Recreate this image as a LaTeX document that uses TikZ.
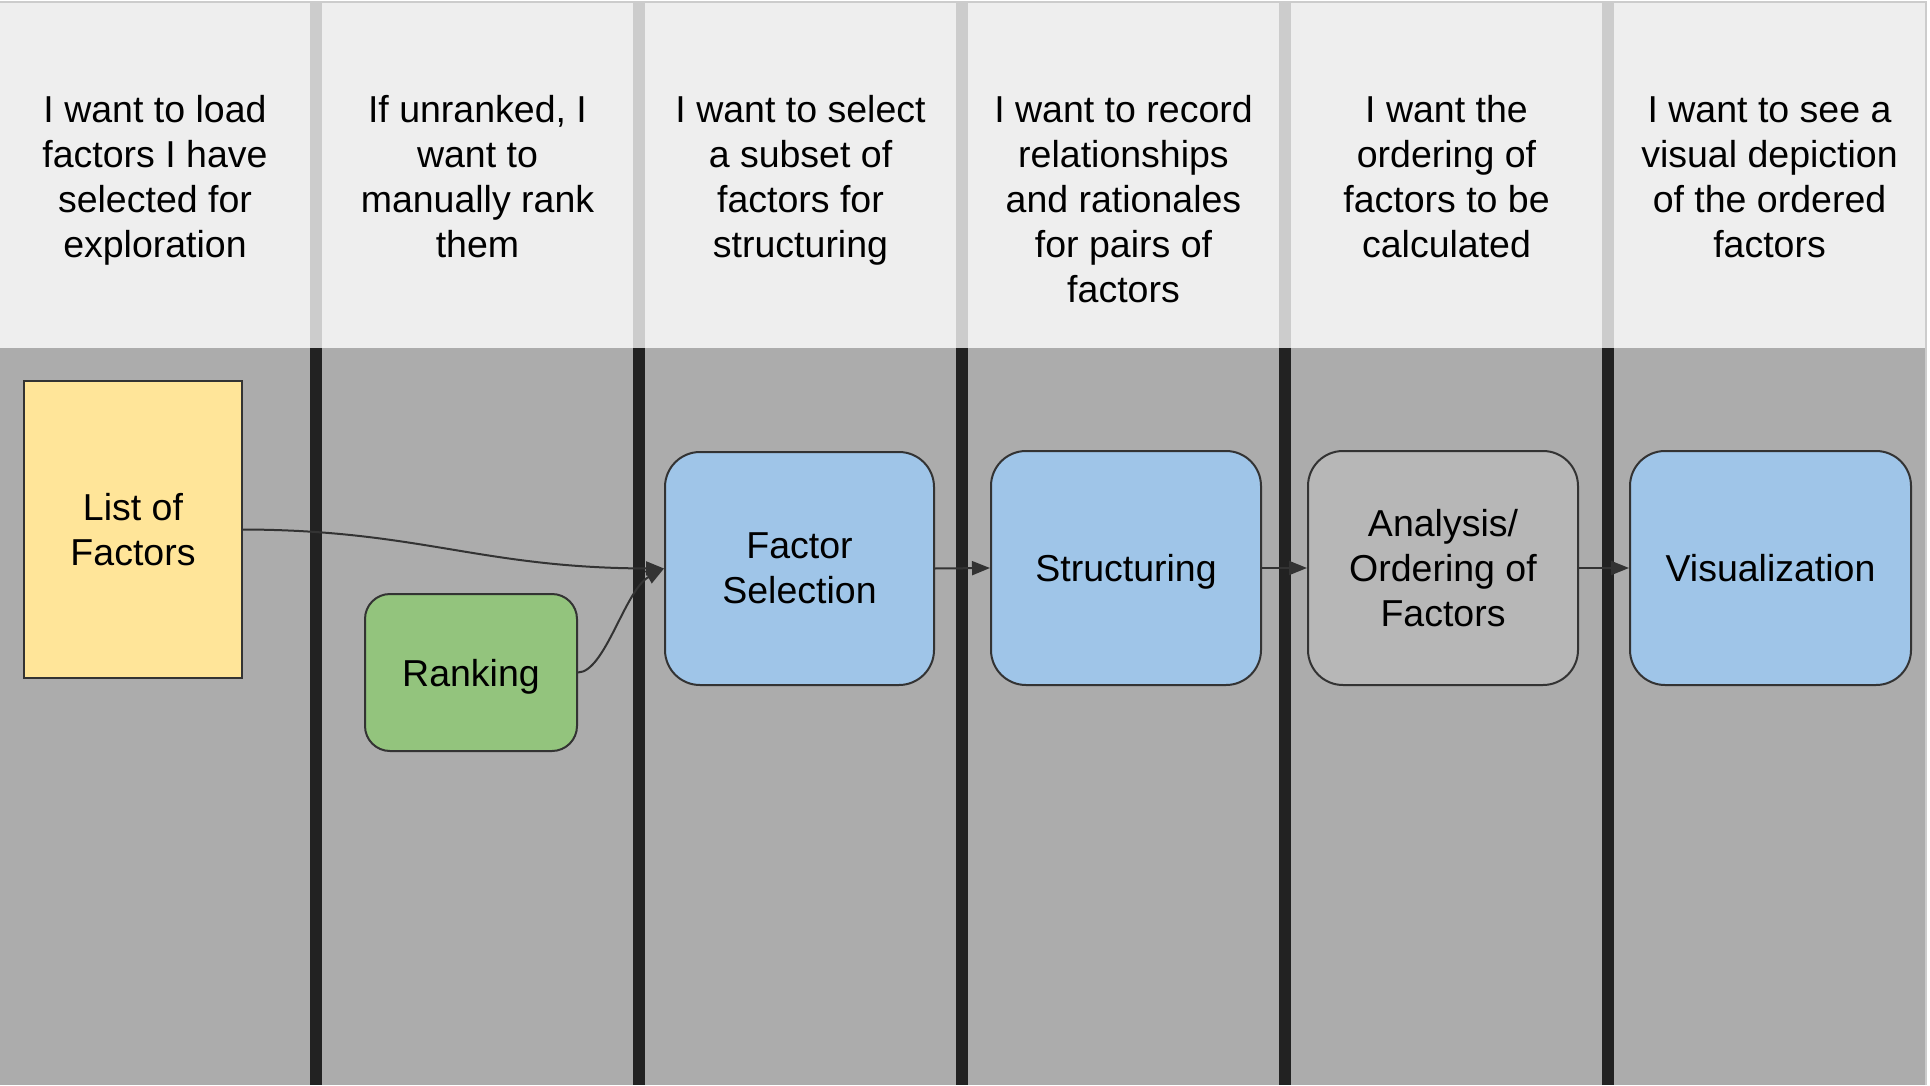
\documentclass[tikz,border=0pt]{standalone}
\usepackage{fontspec}
\setmainfont{Liberation Sans}
\usetikzlibrary{arrows.meta}
\definecolor{hdrbg}{HTML}{EEEEEE}
\definecolor{bodybg}{HTML}{ACACAC}
\definecolor{hdrsep}{HTML}{CCCCCC}
\definecolor{bodysep}{HTML}{222222}
\definecolor{edge}{HTML}{333333}
\definecolor{yellowbox}{HTML}{FFE599}
\definecolor{greenbox}{HTML}{93C47D}
\definecolor{bluebox}{HTML}{9FC5E8}
\definecolor{graybox}{HTML}{B7B7B7}
\newcommand{\nodepth}[1]{\raisebox{0pt}[\height][0pt]{#1}}
\newcommand{\toprow}{\vphantom{Ilfdh}}
\begin{document}
\begin{tikzpicture}[x=1pt,y=-1pt,
  lanetxt/.style={anchor=north,inner sep=0pt,align=center,font=\fontsize{37.5}{45}\selectfont},
  procbox/.style={draw=edge,line width=2pt,align=center,inner sep=0pt,font=\fontsize{37.5}{45}\selectfont},
  conn/.style={draw=edge,line width=2pt,-{Triangle[length=18pt,width=14pt]}}]
\useasboundingbox (0,0) rectangle (1930,1086);
\fill[white] (0,0) rectangle (1930,1086);
\fill[hdrbg] (0,2) rectangle (1926,348);
\fill[bodybg] (0,348) rectangle (1926,1085);
\draw[hdrsep,line width=2pt] (0,2) -- (1926,2) -- (1926,1085);
\foreach \x in {316,639,962,1285,1608}{
  \fill[hdrsep] (\x-6,2) rectangle (\x+6,348);
  \fill[bodysep] (\x-6,348) rectangle (\x+6,1085);
}
% header texts
\node[lanetxt] (h1) at (155,95) {\toprow I want to load\\factors I have\\selected for\\exploration};
\node[lanetxt] (h2) at (477.5,95) {\toprow If unranked, I\\want to\\manually rank\\them};
\node[lanetxt] (h3) at (800.5,95) {\toprow I want to select\\a subset of\\factors for\\structuring};
\node[lanetxt] (h4) at (1123.5,95) {\toprow I want to record\\relationships\\and rationales\\for pairs of\\factors};
\node[lanetxt] (h5) at (1446.5,95) {\toprow I want the\\ordering of\\factors to be\\calculated};
\node[lanetxt] (h6) at (1769.5,95) {\toprow I want to see a\\visual depiction\\of the ordered\\factors};
% boxes
\node[procbox,fill=yellowbox,minimum width=218pt,minimum height=297pt] (list) at (133,529.5) {List of\\\nodepth{Factors}};
\node[procbox,fill=greenbox,rounded corners=25pt,minimum width=212pt,minimum height=157pt] (rank) at (471,672.5) {\nodepth{Ranking}};
\node[procbox,fill=bluebox,rounded corners=35pt,minimum width=269pt,minimum height=233pt] (fs) at (799.5,568.5) {Factor\\\nodepth{Selection}};
\node[procbox,fill=bluebox,rounded corners=35pt,minimum width=270pt,minimum height=234pt] (st) at (1126,568) {\nodepth{Structuring}};
\node[procbox,fill=graybox,rounded corners=35pt,minimum width=270pt,minimum height=234pt] (an) at (1443,568) {Analysis/\\Ordering of\\\nodepth{Factors}};
\node[procbox,fill=bluebox,rounded corners=35pt,minimum width=281pt,minimum height=234pt] (vis) at (1770.5,568) {\nodepth{Visualization}};
% connectors
\draw[conn] (list.east) .. controls (420,530) and (480,568) .. (fs.west);
\draw[conn] (rank.east) .. controls (605,672) and (625,590) .. (fs.west);
\draw[conn] (fs.east) -- (st.west);
\draw[conn] (st.east) -- (an.west);
\draw[conn] (an.east) -- (vis.west);
\end{tikzpicture}
\end{document}
